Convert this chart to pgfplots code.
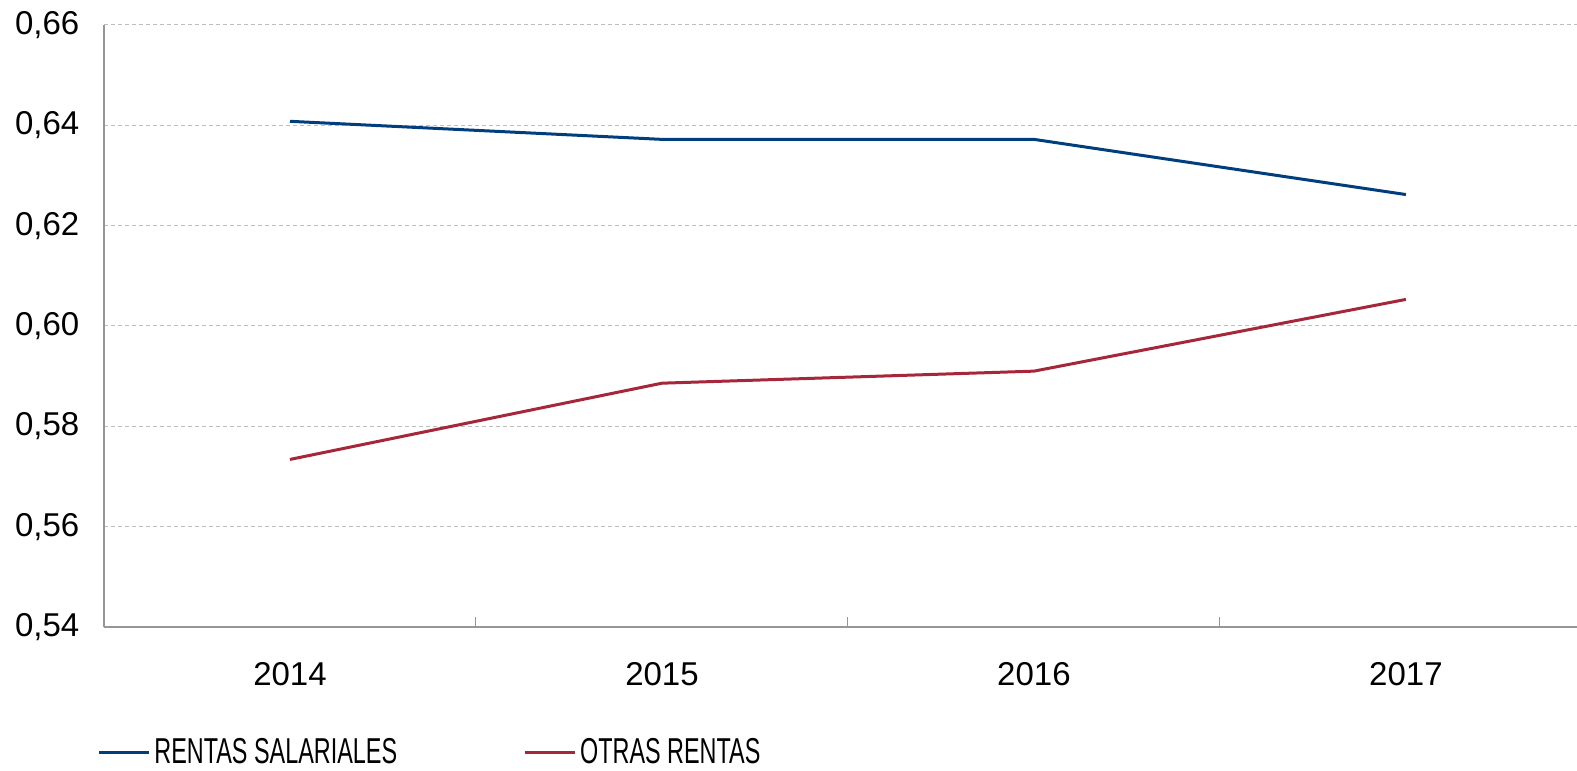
\documentclass[border=0pt]{standalone}
\usepackage{pgfplots}
\pgfplotsset{compat=1.18}
\usepackage{fontspec}
\setmainfont{Liberation Sans}
\newfontfamily\narrowfont[FakeStretch=0.65]{Liberation Sans}
\definecolor{cblue}{RGB}{0,62,125}
\definecolor{cred}{RGB}{166,38,58}
\definecolor{axgray}{RGB}{150,150,150}
\definecolor{gridgray}{RGB}{190,190,190}
\begin{document}
\begin{tikzpicture}
\begin{axis}[
  at={(0,0)}, anchor=south west,
  width=736.5pt, height=301pt, scale only axis,
  xmin=-0.5, xmax=3.46, ymin=0.54, ymax=0.66,
  axis x line*=bottom, axis y line*=left,
  axis line style={axgray, line width=0.6pt},
  xtick={0,1,2,3}, xticklabels={2014,2015,2016,2017},
  major x tick style={draw=none},
  minor xtick={0.5,1.5,2.5},
  minor tick length=5pt,
  minor x tick style={axgray, line width=0.5pt},
  tick align=inside,
  ytick={0.54,0.56,0.58,0.60,0.62,0.64,0.66},
  yticklabels={{0,54},{0,56},{0,58},{0,60},{0,62},{0,64},{0,66}},
  major y tick style={draw=none},
  ymajorgrids,
  grid style={gridgray, line width=0.5pt, dash pattern=on 2pt off 1.5pt},
  tick label style={font=\fontsize{16.5}{19}\selectfont},
  xticklabel style={yshift=-14pt},
  yticklabel style={xshift=-8.8pt},
  legend style={at={(0,0)}, anchor=west, xshift=-3.5pt, yshift=-62.5pt,
    draw=none, fill=none, inner sep=0pt,
    font=\narrowfont\fontsize{18}{20}\selectfont,
    /tikz/every even column/.append style={column sep=61pt}},
  legend columns=2,
  legend cell align=left,
  legend image code/.code={\draw[#1, line width=1.5pt] (0pt,0pt) -- (25pt,0pt);},
]
\addplot[cblue, line width=1.5pt] coordinates {(0,0.6408) (1,0.6372) (2,0.6372) (3,0.6262)};
\addlegendentry{RENTAS SALARIALES}
\addplot[cred, line width=1.5pt] coordinates {(0,0.5734) (1,0.5886) (2,0.5910) (3,0.6053)};
\addlegendentry{OTRAS RENTAS}
\end{axis}
\pgfresetboundingbox
\path[use as bounding box] (-52pt,-71.5pt) rectangle (736.5pt,313.5pt);
\end{tikzpicture}
\end{document}
